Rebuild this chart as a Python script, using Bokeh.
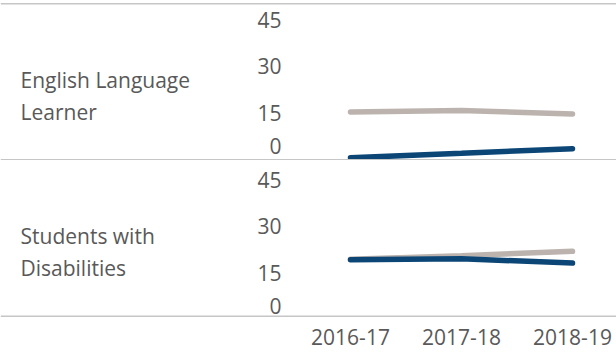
from bokeh.plotting import figure
from bokeh.models import Range1d, FixedTicker, Span
from bokeh.layouts import column
from bokeh.core.properties import value
from bokeh.embed import file_html
from bokeh.resources import INLINE

# ---------------- data ----------------
categories = ["2016-17", "2017-18", "2018-19"]
groups = ["English Language\nLearner", "Students with\nDisabilities"]
ell_series_gray = [15.2, 15.7, 14.6]
ell_series_blue = [0.45, 1.9, 3.4]
swd_series_gray = [19.3, 20.5, 21.9]
swd_series_blue = [19.2, 19.5, 18.1]
y_ticks = [0, 15, 30, 45]

panels = [
    (groups[0], ell_series_gray, ell_series_blue),
    (groups[1], swd_series_gray, swd_series_blue),
]

# ---------------- style / layout ----------------
FONT = "Open Sans"
TEXT_COLOR = "#595959"
GRAY = "#bcb3ae"
BLUE = "#0b4677"
RULE = "#c6c6c6"
FS = "21px"

W = 616
PANEL_H = 160
PX_PER_UNIT = 3.1
ZERO_FROM_TOP = 158.7
y_end = ZERO_FROM_TOP / PX_PER_UNIT
y_start = y_end - PANEL_H / PX_PER_UNIT

X_FIRST_PX = 350.0
X_STEP_PX = 111.0
x_range = Range1d(-X_FIRST_PX / X_STEP_PX, (W - X_FIRST_PX) / X_STEP_PX)
tick_label_x = (281 - X_FIRST_PX) / X_STEP_PX
group_label_x = (20 - X_FIRST_PX) / X_STEP_PX
group_label_ys = [20.4, 21.6]
zero_label_lift = 4.4


def val_at(px_from_top):
    return (ZERO_FROM_TOP - px_from_top) / PX_PER_UNIT


xs = list(range(len(categories)))
figs = []
for i, (label, gray_vals, blue_vals) in enumerate(panels):
    last = i == len(panels) - 1
    p = figure(
        frame_width=W, frame_height=PANEL_H,
        x_range=x_range, y_range=Range1d(y_start, y_end),
        toolbar_location=None, output_backend="svg",
        min_border=0, outline_line_color=None,
        x_axis_location="below" if last else None,
        y_axis_location=None,
        background_fill_color="white", border_fill_color="white",
    )
    p.xgrid.visible = False
    p.ygrid.visible = False

    p.line(xs, gray_vals, line_color=GRAY, line_width=5.5, line_cap="round")
    p.line(xs, blue_vals, line_color=BLUE, line_width=5.5, line_cap="round")

    p.text(
        x=[tick_label_x] * len(y_ticks),
        y=[max(t, zero_label_lift) for t in y_ticks],
        text=[str(t) for t in y_ticks],
        text_align="right", text_baseline="middle",
        text_font=value(FONT), text_font_size=FS, text_color=TEXT_COLOR,
    )
    p.text(
        x=[group_label_x], y=[group_label_ys[i]], text=[label],
        text_align="left", text_baseline="middle", text_line_height=1.15,
        text_font=value(FONT), text_font_size=FS, text_color=TEXT_COLOR,
    )

    if i == 0:
        p.add_layout(Span(location=val_at(3.3), dimension="width",
                          line_color=RULE, line_width=1.5))
        p.add_layout(Span(location=val_at(159.3), dimension="width",
                          line_color=RULE, line_width=1.5))
    else:
        p.add_layout(Span(location=val_at(155.7), dimension="width",
                          line_color=RULE, line_width=1.5))

    if last:
        p.min_border_bottom = 33
        ax = p.xaxis[0]
        ax.ticker = FixedTicker(ticks=xs)
        ax.major_label_overrides = {x: c for x, c in zip(xs, categories)}
        ax.axis_line_color = None
        ax.major_tick_line_color = None
        ax.major_tick_out = 0
        ax.major_tick_in = 0
        ax.minor_tick_line_color = None
        ax.minor_tick_out = 0
        ax.major_label_text_font = FONT
        ax.major_label_text_font_size = FS
        ax.major_label_text_color = TEXT_COLOR
        ax.major_label_standoff = 8
    figs.append(p)

layout = column(*figs, spacing=0)

open("out.html", "w").write(file_html(layout, INLINE))
